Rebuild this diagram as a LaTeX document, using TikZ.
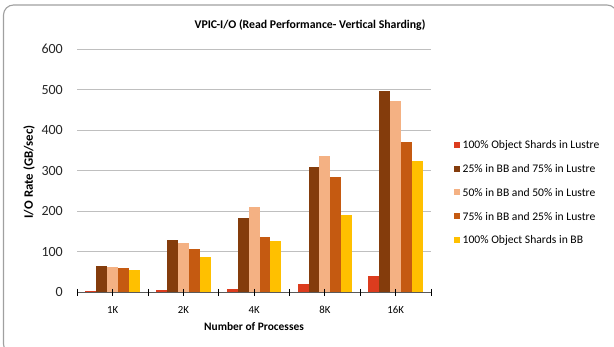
\documentclass[tikz,border=0pt]{standalone}
\usepackage{fontspec}
\setmainfont{Carlito}
\definecolor{cRed}{HTML}{DC3C1E}
\definecolor{cBrown}{HTML}{843C0C}
\definecolor{cPeach}{HTML}{F4B183}
\definecolor{cOrange}{HTML}{C55A11}
\definecolor{cYellow}{HTML}{FFC000}
\definecolor{cGrid}{HTML}{BFBFBF}
\definecolor{cAxis}{HTML}{595959}
\definecolor{cFrame}{HTML}{A0A0A0}
\begin{document}
\begin{tikzpicture}[x=1pt,y=-1pt,
  gridline/.style={draw=cGrid,line width=1pt},
  axisline/.style={draw=cAxis,line width=1.5pt},
  tickmark/.style={draw=black,line width=0.9pt},
  ylab/.style={anchor=east,inner sep=0pt,font=\fontsize{14}{16}\selectfont,text=black!85},
  catlab/.style={anchor=center,inner sep=0pt,font=\fontsize{10.8}{12}\selectfont},
  axtitle/.style={anchor=center,inner sep=0pt,font=\bfseries\fontsize{11.4}{13}\selectfont},
  legtext/.style={anchor=west,inner sep=0pt,font=\fontsize{11.6}{13}\selectfont},
  legbox/.style={inner sep=0pt,minimum size=6pt}]
\useasboundingbox (0,0) rectangle (614,346);
\clip (0,0) rectangle (614,346);
% frame
\draw[cFrame,line width=1.1pt,rounded corners=10pt] (3.5,5) rectangle (617,354);
% title
\node[axtitle,font=\bfseries\fontsize{11.8}{13}\selectfont] (title) at (310,25) {VPIC-I/O (Read Performance- Vertical Sharding)};
% gridlines and y labels
\def\yz{292.3}
\def\sc{0.405}
\foreach \v in {100,200,300,400,500,600}{
  \draw[gridline] (77.3,{\yz-\sc*\v}) -- (431,{\yz-\sc*\v});
}
\foreach \v in {0,100,200,300,400,500,600}{
  \node[ylab] (yl\v) at (63,{\yz-\sc*\v}) {\v};
}
% bars
\def\cw{70.74}
\def\bw{10.88}
\foreach \cat/\a/\b/\c/\d/\e [count=\i from 0] in {1K/3/65/62/59/56, 2K/6/129/121/106/88, 4K/9/183/211/136/126, 8K/21/309/337/285/191, 16K/41/497/473/370/324}{
  \pgfmathsetmacro{\xs}{77.3+\i*\cw+0.75*\bw}
  \fill[cRed]    (\xs,\yz) rectangle ({\xs+\bw},{\yz-\sc*\a});
  \fill[cBrown]  ({\xs+\bw},\yz) rectangle ({\xs+2*\bw},{\yz-\sc*\b});
  \fill[cPeach]  ({\xs+2*\bw},\yz) rectangle ({\xs+3*\bw},{\yz-\sc*\c});
  \fill[cOrange] ({\xs+3*\bw},\yz) rectangle ({\xs+4*\bw},{\yz-\sc*\d});
  \fill[cYellow] ({\xs+4*\bw},\yz) rectangle ({\xs+5*\bw},{\yz-\sc*\e});
  \node[catlab] (cat\i) at ({77.3+(\i+0.5)*\cw},310) {\cat};
}
% axis
\draw[axisline] (77.3,\yz) -- (431,\yz);
\foreach \k in {0,...,10}{
  \draw[tickmark] ({77.3+\k*\cw/2},{\yz-3.5}) -- ({77.3+\k*\cw/2},{\yz+3.5});
}
% axis titles
\node[axtitle] (xtitle) at (254,327) {Number of Processes};
\node[axtitle,rotate=90,font=\bfseries\fontsize{12.8}{14}\selectfont] (ytitle) at (29,172) {I/O Rate (GB/sec)};
% legend
\foreach \col/\txt [count=\j from 0] in {cRed/100\% Object Shards in Lustre, cBrown/25\% in BB  and 75\% in Lustre, cPeach/50\% in BB  and 50\% in Lustre, cOrange/75\% in BB  and 25\% in Lustre, cYellow/100\% Object Shards in BB}{
  \node[legbox,fill=\col] (lb\j) at (457.2,{144.8+\j*23.8}) {};
  \node[legtext] (lt\j) at (462.5,{145+\j*23.8}) {\txt};
}
\end{tikzpicture}
\end{document}
